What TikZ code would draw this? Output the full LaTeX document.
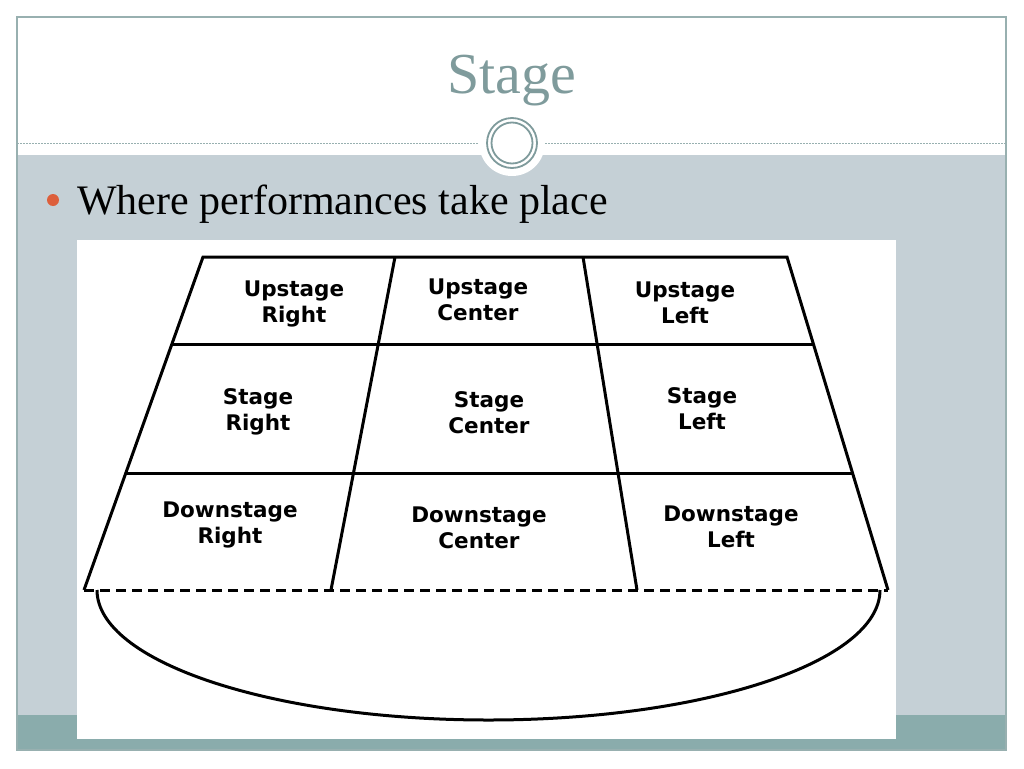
\documentclass[tikz,border=0pt]{standalone}
\usepackage{fontspec}
\setmainfont{Liberation Serif}
\newfontfamily\cellfont{DejaVu Sans}
\usetikzlibrary{calc}
\definecolor{bandcol}{HTML}{C5D0D6}
\definecolor{footcol}{HTML}{8AACAC}
\definecolor{framecol}{HTML}{98B0B0}
\definecolor{titlecol}{HTML}{7F9B9C}
\definecolor{dotcol}{HTML}{DD5F3C}
\begin{document}
\begin{tikzpicture}[x=1pt,y=-1pt,
    wall/.style={line width=3pt,line join=miter},
    cell/.style={anchor=base,align=center,inner sep=0pt,
        font=\cellfont\bfseries\fontsize{21.5}{25.5}\selectfont}]
    \useasboundingbox (0,0) rectangle (1024,768);
    % slide
    \fill[bandcol] (17,155) rectangle (1006,715);
    \fill[footcol] (17,715) rectangle (1006,750);
    \draw[framecol,line width=1.2pt] (17,17) rectangle (1006,750);
    \draw[framecol,line width=1pt,dash pattern=on 2pt off 1pt] (17,143)--(1006,143);
    \fill[white] (512,143) circle[radius=33];
    \draw[titlecol,line width=1.8pt]
    (512,143) circle[radius=25]
    (512,143) circle[radius=20.5];
    \node (title) [anchor=base,inner sep=0pt,text=titlecol,
        font=\fontsize{58}{58}\selectfont] at (512,93) {Stage};
    \fill[dotcol] (53,200) circle[radius=6];
    \node (point) [anchor=base west,inner sep=0pt,
        font=\fontsize{42}{42}\selectfont] at (77,214) {Where performances take place};
    % stage picture
    \fill[white] (77,240) rectangle (896,739);
    \coordinate (ul) at (203,257);
    \coordinate (ur) at (787,257);
    \coordinate (bl) at (84,590);
    \coordinate (br) at (888,590);
    \coordinate (d1t) at (395,257);
    \coordinate (d1b) at (331,590);
    \coordinate (d2t) at (583,257);
    \coordinate (d2b) at (637,590);
    \begin{scope}[wall]
        \draw (bl)--(ul)--(ur)--(br);
        \draw ($(ul)!.264!(bl)$)--($(ur)!.264!(br)$);
        \draw ($(ul)!.649!(bl)$)--($(ur)!.649!(br)$);
        \draw (d1t)--(d1b) (d2t)--(d2b);
        \draw[dash pattern=on 10pt off 6pt] (bl)--(br);
        \draw (97,590) arc[start angle=180,end angle=0,x radius=391.5,y radius=130];
    \end{scope}
    \path
    (294,322) node[cell] (usr) {Upstage\\Right} % <<< row 1
    (478,320) node[cell] (usc) {Upstage\\Center}
    (685,323) node[cell] (usl) {Upstage\\Left}
    (258,430) node[cell] (sr) {Stage\\Right} % <<< row 2
    (489,433) node[cell] (sc) {Stage\\Center}
    (702,429) node[cell] (sl) {Stage\\Left}
    (230,543) node[cell] (dsr) {Downstage\\Right} % <<< row 3
    (479,548) node[cell] (dsc) {Downstage\\Center}
    (731,547) node[cell] (dsl) {Downstage\\Left};
\end{tikzpicture}
\end{document}
